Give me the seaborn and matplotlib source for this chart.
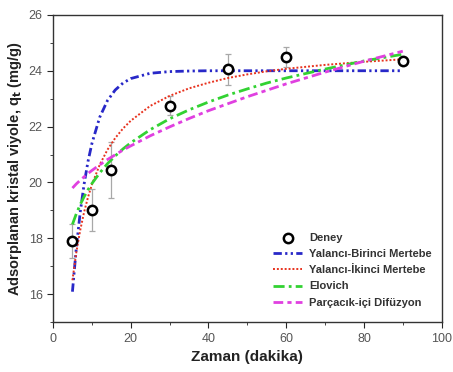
import matplotlib
matplotlib.use("Agg")
import matplotlib.pyplot as plt
import seaborn as sns
import pandas as pd
from matplotlib.ticker import MultipleLocator

# Experimental data
t_exp = [5, 10, 15, 30, 45, 60, 90]
q_exp = [17.9, 19.0, 20.45, 22.75, 24.05, 24.5, 24.35]
q_err = [0.6, 0.75, 1.0, 0.35, 0.55, 0.35, 0.15]

# Model curves
t_fit = [5, 6, 7, 8, 9, 10, 12, 14, 16, 18, 20, 25, 30, 35, 40, 45, 50, 55, 60, 70, 80, 90]
q_pfo = [16.09, 17.66, 18.93, 19.94, 20.75, 21.39, 22.33, 22.93, 23.31, 23.56, 23.72, 23.91,
         23.97, 23.99, 24.0, 24.0, 24.0, 24.0, 24.0, 24.0, 24.0, 24.0]
q_pso = [16.50, 17.50, 18.29, 18.94, 19.47, 19.92, 20.63, 21.17, 21.59, 21.93, 22.21, 22.74,
         23.10, 23.37, 23.57, 23.74, 23.87, 23.98, 24.07, 24.21, 24.32, 24.41]
q_elo = [18.50, 18.88, 19.21, 19.49, 19.74, 19.96, 20.34, 20.67, 20.95, 21.20, 21.42, 21.89,
         22.28, 22.60, 22.88, 23.13, 23.35, 23.56, 23.74, 24.06, 24.35, 24.59]
q_ipd = [19.80, 19.95, 20.08, 20.20, 20.32, 20.43, 20.63, 20.82, 20.99, 21.16, 21.31, 21.67,
         21.99, 22.29, 22.57, 22.82, 23.07, 23.30, 23.53, 23.95, 24.34, 24.70]

labels = ["Deney", "Yalancı-Birinci Mertebe", "Yalancı-İkinci Mertebe", "Elovich", "Parçacık-içi Difüzyon"]

sns.set_style("ticks")
plt.rcParams['font.family'] = ['Liberation Sans', 'DejaVu Sans']

fig = plt.figure(figsize=(4.53, 3.72), dpi=100)
ax = fig.add_axes([0.117, 0.134, 0.858, 0.826])

fit = pd.DataFrame({"t": t_fit, "pfo": q_pfo, "pso": q_pso, "elo": q_elo, "ipd": q_ipd})

ax.errorbar(t_exp, q_exp, yerr=q_err, fmt='none', ecolor='#a8a8a8', elinewidth=0.9,
            capsize=2.5, capthick=0.9, zorder=2)

handles = []
specs = [("pfo", '#2828c8', 2.0, (0, (3, 1.2, 0.8, 1.2, 0.8, 1.2))),
         ("pso", '#e8321e', 1.4, (0, (1, 1))),
         ("elo", '#32d232', 2.0, (0, (4, 1.5, 1, 1.5))),
         ("ipd", '#e040e0', 2.0, (0, (3.5, 1.5, 1.5, 1.5)))]
for col, color, lw, ls in specs:
    n = len(ax.lines)
    sns.lineplot(data=fit, x="t", y=col, ax=ax, color=color, lw=lw, legend=False, zorder=3)
    ln = ax.lines[n]
    ln.set_linestyle(ls)
    handles.append(ln)

sns.scatterplot(x=t_exp, y=q_exp, ax=ax, marker='o', s=45, facecolor='white',
                edgecolor='black', linewidth=1.8, legend=False, zorder=5)
pts = ax.collections[-1]

ax.set_xlim(0, 100)
ax.set_ylim(15, 26)
ax.xaxis.set_major_locator(MultipleLocator(20))
ax.xaxis.set_minor_locator(MultipleLocator(10))
ax.set_yticks([16, 18, 20, 22, 24, 26])
ax.yaxis.set_minor_locator(MultipleLocator(1))
ax.tick_params(axis='both', which='major', direction='out', length=4, labelsize=9,
               labelcolor='#555555', top=False, right=False)
ax.tick_params(axis='both', which='minor', direction='out', length=2.5, top=False, right=False)
for s in ax.spines.values():
    s.set_visible(True)
    s.set_linewidth(1.0)
    s.set_color('#333333')

ax.set_xlabel("Zaman (dakika)", fontsize=11, fontweight='bold', color='#222222')
ax.set_ylabel("Adsorplanan kristal viyole, q$_\\mathbf{t}$ (mg/g)", fontsize=10.5,
              fontweight='bold', color='#222222', labelpad=3)

leg = ax.legend([pts] + handles, labels, loc='lower right',
                bbox_to_anchor=(1.0, 0.015), frameon=False, fontsize=8,
                handlelength=2.6, labelspacing=0.55, handletextpad=0.6)
for txt in leg.get_texts():
    txt.set_fontweight('bold')
    txt.set_color('#333333')

fig.savefig("out.png", dpi=100)
